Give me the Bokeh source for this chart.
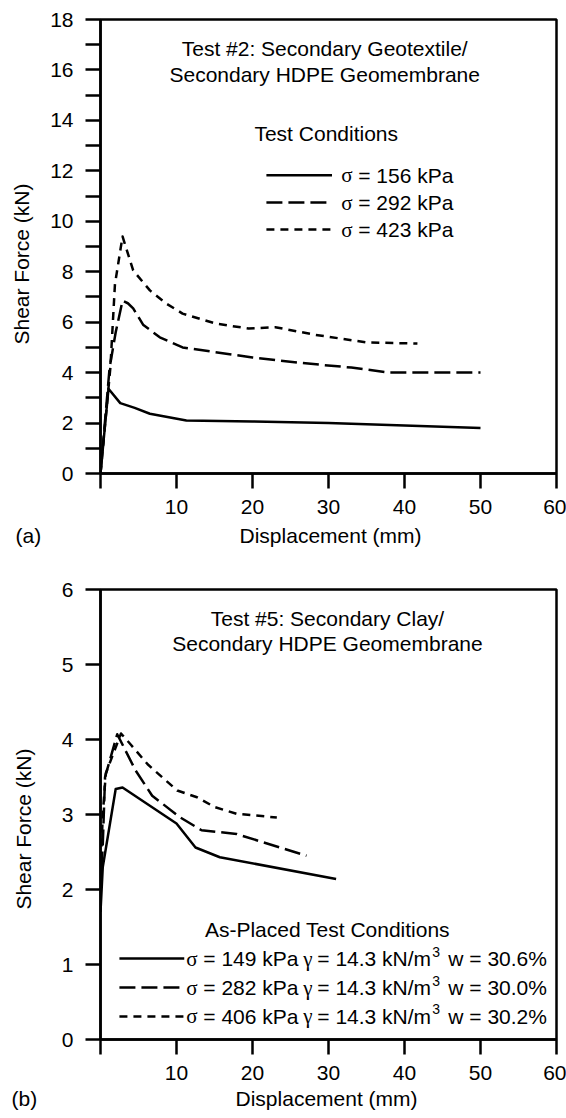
import math
from bokeh.plotting import figure
from bokeh.models import Range1d, FixedTicker, Label, Title
from bokeh.layouts import column
from bokeh.embed import file_html
from bokeh.resources import INLINE

# ---------------- data ----------------
# Panel (a): Test #2 Secondary Geotextile / Secondary HDPE Geomembrane
disp_a_156 = [0, 1.05, 2.6, 4.5, 6.5, 11.3, 20, 30, 40, 50]
force_a_156 = [0, 3.36, 2.79, 2.6, 2.37, 2.1, 2.06, 2.0, 1.9, 1.8]
disp_a_292 = [0, 1.2, 2.0, 2.9, 3.6, 4.3, 5.6, 7.8, 10.8, 20, 26.5, 33, 38, 50]
force_a_292 = [0, 4.2, 5.6, 6.85, 6.75, 6.55, 5.9, 5.4, 5.0, 4.6, 4.38, 4.2, 4.0, 4.0]
disp_a_423 = [0, 1.3, 1.9, 2.9, 4.3, 6.5, 8.7, 10.8, 15.2, 19.5, 23, 28.2, 35, 41.7]
force_a_423 = [0, 4.2, 7.5, 9.4, 8.05, 7.26, 6.73, 6.34, 5.94, 5.75, 5.8, 5.5, 5.2, 5.15]

# Panel (b): Test #5 Secondary Clay / Secondary HDPE Geomembrane
disp_b_149 = [0, 0.3, 2.0, 2.9, 10.0, 12.5, 15.7, 31.0]
force_b_149 = [1.7, 2.3, 3.34, 3.36, 2.88, 2.56, 2.43, 2.14]
disp_b_282 = [0, 0.3, 0.6, 2.2, 4.6, 6.8, 10.5, 13.3, 17.9, 27.1]
force_b_282 = [2.0, 2.6, 3.5, 4.07, 3.59, 3.25, 2.96, 2.79, 2.74, 2.45]
disp_b_406 = [0, 0.3, 0.7, 2.7, 4.0, 6.2, 8.3, 10.1, 12.7, 15, 17.9, 23.2]
force_b_406 = [2.2, 3.0, 3.55, 4.08, 3.93, 3.67, 3.48, 3.32, 3.23, 3.1, 3.01, 2.96]

x_ticks = [0, 10, 20, 30, 40, 50, 60]
y_ticks_a = [0, 2, 4, 6, 8, 10, 12, 14, 16, 18]
y_minor_a = [1, 3, 5, 7, 9, 11, 13, 15, 17]
y_ticks_b = [0, 1, 2, 3, 4, 5, 6]

legend_a = ["156", "292", "423"]
legend_b_sigma = ["149", "282", "406"]
legend_b_gamma = ["14.3", "14.3", "14.3"]
legend_b_w = ["30.6", "30.0", "30.2"]

# ---------------- styles ----------------
SANS = "Liberation Sans"
SERIF = "Liberation Serif"
FS = "21px"
LW = 2.5
DASHES = ["solid", "16 6", "8 6"]
NB = "\u00a0"


def make_fig(height, left, right, top, bottom, ymax, yticks, yminor, ylab_standoff, ylab_pad):
    p = figure(width=566, height=height, x_range=Range1d(0, 60), y_range=Range1d(0, ymax),
               output_backend="svg", toolbar_location=None,
               min_border_left=left, min_border_right=right, min_border_top=top,
               min_border_bottom=bottom)
    p.grid.visible = False
    p.background_fill_color = "white"
    p.border_fill_color = "white"
    p.outline_line_color = "black"
    p.outline_line_width = LW
    p.outline_line_alpha = 1.0
    p.xaxis.ticker = FixedTicker(ticks=x_ticks, minor_ticks=[])
    p.xaxis.major_label_overrides = {0: ""}
    p.yaxis.ticker = FixedTicker(ticks=yticks, minor_ticks=yminor)
    for ax in (p.xaxis, p.yaxis):
        ax.axis_line_width = LW
        ax.axis_line_color = "black"
        ax.major_tick_line_width = LW
        ax.major_tick_line_color = "black"
        ax.minor_tick_line_width = LW
        ax.minor_tick_line_color = "black"
        ax.major_tick_out = 15
        ax.major_tick_in = 0
        ax.minor_tick_out = 15
        ax.minor_tick_in = 0
        ax.major_label_text_font = SANS
        ax.major_label_text_font_size = FS
        ax.major_label_text_color = "black"
    p.xaxis.major_label_standoff = 11
    p.yaxis.major_label_standoff = 12
    p.yaxis.axis_label = "Shear Force (kN)" + NB * ylab_pad
    p.yaxis.axis_label_standoff = ylab_standoff
    p.yaxis.axis_label_text_font = SANS
    p.yaxis.axis_label_text_font_size = FS
    p.yaxis.axis_label_text_font_style = "normal"
    p.yaxis.axis_label_text_color = "black"
    return p


def bottom_title(p, tag, offset, standoff):
    t = Title(text=tag + NB * 34 + "Displacement (mm)", align="left", offset=offset,
              standoff=standoff, text_font=SANS, text_font_size=FS,
              text_font_style="normal", text_color="black")
    p.add_layout(t, "below")


def lab(p, x, y, text, font=SANS, size=FS, align="center", baseline="middle", xo=0, yo=0):
    p.add_layout(Label(x=x, y=y, text=text, text_font=font, text_font_size=size,
                       text_align=align, text_baseline=baseline,
                       x_offset=xo, y_offset=yo, text_color="black"))


# ---------------- panel (a) ----------------
pa = make_fig(560, 97, 10, 19, 87, 18, y_ticks_a, y_minor_a, 14, 6)
series_a = [(disp_a_156, force_a_156), (disp_a_292, force_a_292), (disp_a_423, force_a_423)]
for (xs, ys), dash in zip(series_a, DASHES):
    pa.line(xs, ys, line_color="black", line_width=LW, line_dash=dash, line_join="round")
bottom_title(pa, "(a)", -85, 10)

lab(pa, 29.5, 16.85, "Test #2: Secondary Geotextile/")
lab(pa, 29.5, 15.82, "Secondary HDPE Geomembrane")
lab(pa, 29.7, 13.48, "Test Conditions")
leg_rows_a = [11.82, 10.74, 9.67]
for row, val, dash in zip(leg_rows_a, legend_a, DASHES):
    pa.line([21.83, 30.46], [row, row], line_color="black", line_width=LW, line_dash=dash)
    lab(pa, 31.67, row, "σ", font=SERIF, align="left")
    lab(pa, 31.67, row, "= %s kPa" % val, align="left", xo=17)

# ---------------- panel (b) ----------------
pb = make_fig(558, 100, 9, 29, 79, 6, y_ticks_b, [], 24, 5)
series_b = [(disp_b_149, force_b_149), (disp_b_282, force_b_282), (disp_b_406, force_b_406)]
for (xs, ys), dash in zip(series_b, DASHES):
    pb.line(xs, ys, line_color="black", line_width=LW, line_dash=dash, line_join="round")
bottom_title(pb, "(b)", -89, 5)

lab(pb, 29.86, 5.61, "Test #5: Secondary Clay/")
lab(pb, 29.86, 5.28, "Secondary HDPE Geomembrane")
lab(pb, 29.86, 1.47, "As-Placed Test Conditions")
leg_rows_b = [1.08, 0.693, 0.307]
for row, s, g, w, dash in zip(leg_rows_b, legend_b_sigma, legend_b_gamma, legend_b_w, DASHES):
    pb.line([2.49, 11.02], [row, row], line_color="black", line_width=LW, line_dash=dash)
    x0 = 11.29
    lab(pb, x0, row, "σ", font=SERIF, align="left")
    lab(pb, x0, row, "= %s kPa" % s, align="left", xo=17)
    lab(pb, x0, row, "γ", font=SERIF, align="left", xo=117)
    lab(pb, x0, row, "= %s kN/m" % g, align="left", xo=131)
    lab(pb, x0, row, "3", size="14px", align="left", xo=246, yo=7)
    lab(pb, x0, row, "w = %s%%" % w, align="left", xo=262)

layout = column(pa, pb, spacing=0)
open("out.html", "w").write(file_html(layout, INLINE))
